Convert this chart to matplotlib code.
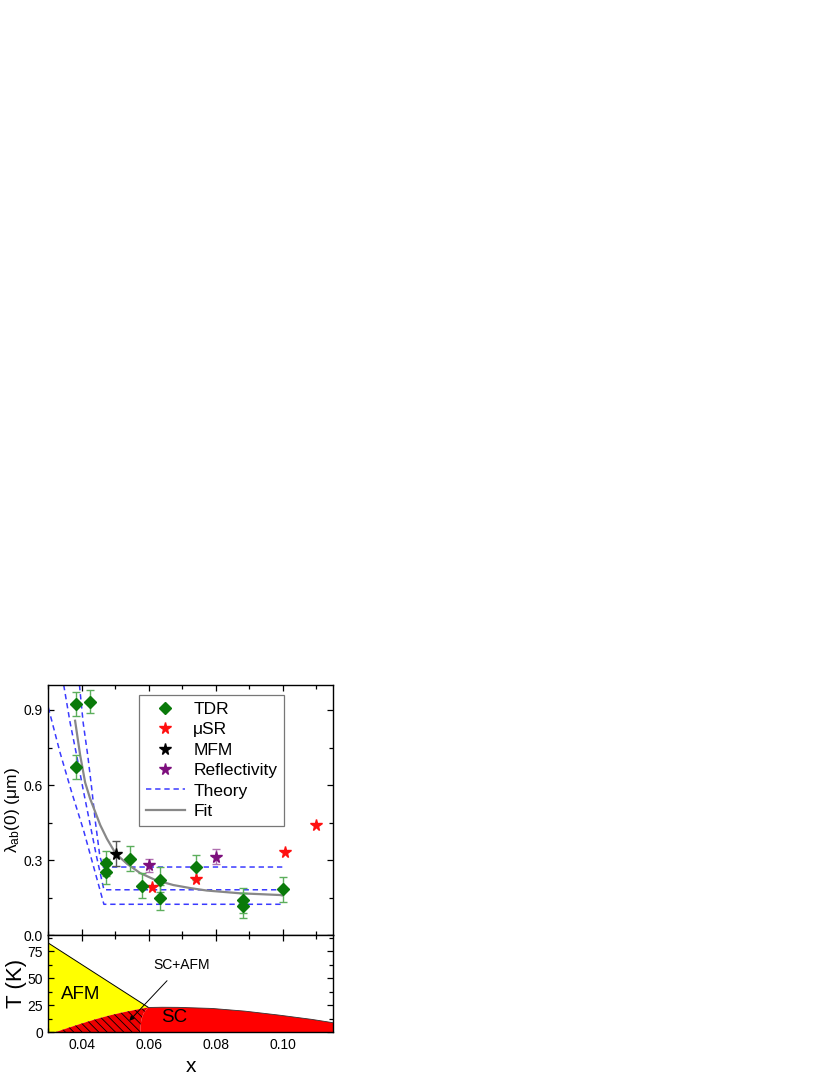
import matplotlib
matplotlib.use("Agg")
import matplotlib.pyplot as plt
from matplotlib.ticker import MultipleLocator
from matplotlib.lines import Line2D

plt.rcParams['font.family'] = ['Liberation Sans', 'DejaVu Sans']
plt.rcParams['mathtext.default'] = 'regular'
plt.rcParams['hatch.linewidth'] = 0.6

# ---------------- data: top panel ----------------
tdr_x = [0.0383, 0.0423, 0.0383, 0.0472, 0.0472, 0.0544, 0.0581, 0.0633, 0.0633, 0.0742, 0.0881, 0.0881, 0.1000]
tdr_y = [0.923, 0.933, 0.673, 0.287, 0.254, 0.305, 0.197, 0.221, 0.150, 0.271, 0.140, 0.118, 0.183]
tdr_err = [0.047, 0.047, 0.049, 0.05, 0.05, 0.05, 0.05, 0.05, 0.05, 0.05, 0.05, 0.05, 0.05]

musr_x = [0.0611, 0.0742, 0.1008, 0.1099]
musr_y = [0.194, 0.225, 0.334, 0.439]

mfm_x = [0.0502]
mfm_y = [0.326]
mfm_err = [0.049]

refl_x = [0.0600, 0.0800]
refl_y = [0.279, 0.314]
refl_err = [0.025, 0.03]

theory1_x = [0.0300, 0.0335, 0.0370, 0.0405, 0.0440, 0.0466, 0.1000]
theory1_y = [0.910, 0.730, 0.570, 0.420, 0.250, 0.123, 0.123]
theory2_x = [0.0346, 0.0365, 0.0385, 0.0404, 0.0424, 0.0444, 0.0466, 0.1000]
theory2_y = [1.000, 0.850, 0.716, 0.582, 0.448, 0.314, 0.181, 0.181]
theory3_x = [0.0393, 0.0404, 0.0418, 0.0430, 0.0441, 0.0454, 0.0464, 0.1000]
theory3_y = [1.000, 0.850, 0.716, 0.582, 0.448, 0.314, 0.272, 0.272]

fit_x = [0.0380, 0.0395, 0.0410, 0.0425, 0.0439, 0.0455, 0.0475, 0.0501, 0.0535, 0.0574, 0.0620, 0.0673, 0.0723, 0.0773, 0.0872, 0.0992, 0.1000]
fit_y = [0.857, 0.720, 0.610, 0.545, 0.496, 0.440, 0.385, 0.326, 0.285, 0.248, 0.220, 0.200, 0.188, 0.178, 0.167, 0.160, 0.158]

# ---------------- data: bottom panel ----------------
afm_x = [0.0300, 0.0598]
afm_T = [82.6, 23.2]
scl_x = [0.0320, 0.0360, 0.0400, 0.0440, 0.0480, 0.0520, 0.0560, 0.0598]
scl_T = [0.0, 4.2, 8.2, 12.0, 15.4, 18.3, 20.8, 23.0]
coex_x = [0.0598, 0.0585, 0.0578, 0.0575, 0.0575]
coex_T = [23.0, 18.0, 12.0, 5.0, 0.0]
dome_x = [0.0598, 0.0640, 0.0688, 0.0788, 0.0887, 0.0987, 0.1086, 0.1150]
dome_T = [23.0, 23.2, 23.1, 22.1, 19.6, 16.0, 12.0, 8.9]

xmin, xmax = 0.030, 0.115

fig = plt.figure(figsize=(8.3, 10.75), dpi=100)
ax1 = fig.add_axes([0.0582, 0.1302, 0.3430, 0.2326])
ax2 = fig.add_axes([0.0582, 0.0397, 0.3430, 0.0905])

blue = '#3a3aff'
dash = (0, (3.5, 2.5))
green = '#0a7a0a'
red = '#ff1010'
purple = '#7d0f7d'
ax1.plot(theory1_x, theory1_y, ls=dash, color=blue, lw=1.1)
ax1.plot(theory2_x, theory2_y, ls=dash, color=blue, lw=1.1)
ax1.plot(theory3_x, theory3_y, ls=dash, color=blue, lw=1.1)
ax1.plot(fit_x, fit_y, color='#888888', lw=1.6, zorder=3)

ax1.errorbar(tdr_x, tdr_y, yerr=tdr_err, fmt='D', color=green, ms=6.5,
             ecolor='#5cae5c', elinewidth=1.0, capsize=3, capthick=1.0, zorder=5)
ax1.plot(musr_x, musr_y, '*', color=red, ms=8.5, zorder=5, mec=red)
ax1.errorbar(mfm_x, mfm_y, yerr=mfm_err, fmt='*', color='black', ms=8.5,
             ecolor='#555555', elinewidth=1.0, capsize=3, capthick=1.0, zorder=5)
ax1.errorbar(refl_x, refl_y, yerr=refl_err, fmt='*', color=purple, ms=8.5,
             ecolor='#b070b0', elinewidth=1.0, capsize=3, capthick=1.0, zorder=5)

ax1.set_xlim(xmin, xmax)
ax1.set_ylim(0.0, 1.0)
ax1.yaxis.set_major_locator(MultipleLocator(0.3))
ax1.yaxis.set_minor_locator(MultipleLocator(0.15))
ax1.xaxis.set_major_locator(MultipleLocator(0.02))
ax1.xaxis.set_minor_locator(MultipleLocator(0.01))
ax1.set_yticks([0.0, 0.3, 0.6, 0.9])
ax1.set_yticklabels(['0.0', '0.3', '0.6', '0.9'])
ax1.tick_params(labelbottom=False)
ax1.set_ylabel('λ$_{ab}$(0) (μm)', fontsize=12.5)
ax1.yaxis.set_label_coords(-0.094, 0.5)

handles = [
    Line2D([], [], ls='none', marker='D', color=green, ms=6.5),
    Line2D([], [], ls='none', marker='*', color=red, ms=8.5),
    Line2D([], [], ls='none', marker='*', color='black', ms=8.5),
    Line2D([], [], ls='none', marker='*', color=purple, ms=8.5),
    Line2D([], [], ls=dash, color=blue, lw=1.1),
    Line2D([], [], color='#888888', lw=1.6),
]
labels = ['TDR', 'μSR', 'MFM', 'Reflectivity', 'Theory', 'Fit']
leg = ax1.legend(handles, labels, loc='upper left',
                 bbox_to_anchor=(0.32, 0.96), borderaxespad=0, fontsize=12.5,
                 frameon=True, fancybox=False, edgecolor='#555555',
                 labelspacing=0.3, handlelength=2.2, handletextpad=0.5,
                 borderpad=0.4, numpoints=1)
leg.get_frame().set_linewidth(0.9)

# ---------------- bottom panel ----------------
ax2.fill(afm_x + scl_x[::-1] + [xmin], afm_T + scl_T[::-1] + [0.0],
         facecolor='#ffff00', edgecolor='none', lw=0, zorder=1)
ax2.fill(scl_x + coex_x[1:], scl_T + coex_T[1:], facecolor='#ee0000',
         edgecolor='black', lw=0, hatch='\\\\\\\\', zorder=2)
ax2.fill(coex_x[::-1] + dome_x[1:] + [xmax], coex_T[::-1] + dome_T[1:] + [0.0],
         facecolor='#ff0000', edgecolor='none', lw=0, zorder=2)
ax2.plot(afm_x, afm_T, color='black', lw=0.7, zorder=3)
ax2.plot(dome_x, dome_T, color='#333333', lw=0.6, zorder=3)

ax2.text(0.0397, 35.3, 'AFM', fontsize=13.5, ha='center', va='center', zorder=4)
ax2.text(0.0675, 13.8, 'SC', fontsize=13.5, ha='center', va='center', zorder=4)
ax2.annotate('SC+AFM', xy=(0.0542, 10.7), xytext=(0.0699, 62.4),
             fontsize=10, ha='center', va='center', zorder=4,
             arrowprops=dict(arrowstyle='-|>', color='black', lw=0.7,
                             mutation_scale=7, shrinkA=6, shrinkB=0))

ax2.set_xlim(xmin, xmax)
ax2.set_ylim(0, 90)
ax2.yaxis.set_major_locator(MultipleLocator(25))
ax2.yaxis.set_minor_locator(MultipleLocator(12.5))
ax2.xaxis.set_major_locator(MultipleLocator(0.02))
ax2.xaxis.set_minor_locator(MultipleLocator(0.01))
ax2.set_xticks([0.04, 0.06, 0.08, 0.10])
ax2.set_xticklabels(['0.04', '0.06', '0.08', '0.10'])
ax2.set_ylabel('T (K)', fontsize=16)
ax2.yaxis.set_label_coords(-0.076, 0.5)
ax2.set_xlabel('x', fontsize=15, labelpad=4)

for ax in (ax1, ax2):
    ax.tick_params(which='both', direction='in', top=True, right=True,
                   labelsize=10, width=0.9)
    ax.tick_params(which='major', length=4.5, pad=4)
    ax.tick_params(which='minor', length=3)
    for s in ax.spines.values():
        s.set_linewidth(1.0)

fig.savefig('out.png', dpi=100)
